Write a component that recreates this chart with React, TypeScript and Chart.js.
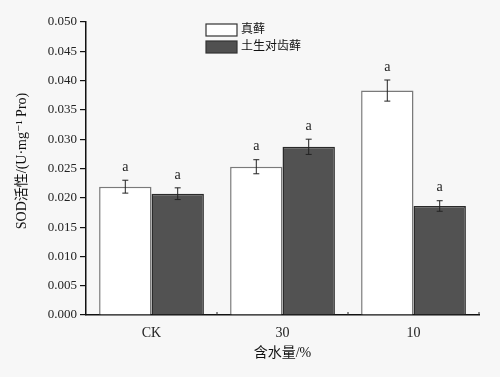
import React, { useEffect, useRef } from "react";
import { Chart, registerables } from "chart.js";

Chart.register(...registerables);

const categories = ["CK", "30", "10"];
const seriesNames = ["真藓", "土生对齿藓"];
const zhenxian = [0.0219, 0.0253, 0.0383];
const tusheng = [0.0207, 0.0287, 0.0186];
const zhenxianErr = [0.0011, 0.0012, 0.0018];
const tushengErr = [0.0010, 0.0013, 0.0009];
const sigLabelsA = ["a", "a", "a"];
const sigLabelsB = ["a", "a", "a"];
const yTicks = [0, 0.005, 0.01, 0.015, 0.02, 0.025, 0.03, 0.035, 0.04, 0.045, 0.05];
const xTitle = "含水量/%";
const yTitle = "SOD活性/(U·mg⁻¹ Pro)";

const SERIF = "'Liberation Serif', 'DejaVu Serif', 'Noto Sans CJK SC', serif";

const overlayPlugin = {
  id: "overlay",
  afterDatasetsDraw(chart: any) {
    const ctx = chart.ctx;
    const ys = chart.scales.y;
    const xs = chart.scales.x;
    const errs = [zhenxianErr, tushengErr];
    const sigs = [sigLabelsA, sigLabelsB];
    const vals = [zhenxian, tusheng];
    ctx.save();
    for (let d = 0; d < 2; d++) {
      const meta = chart.getDatasetMeta(d);
      meta.data.forEach((bar: any, i: number) => {
        const x = bar.x;
        const top = ys.getPixelForValue(vals[d][i] + errs[d][i]);
        const bot = ys.getPixelForValue(vals[d][i] - errs[d][i]);
        ctx.strokeStyle = "#222";
        ctx.lineWidth = 1;
        ctx.beginPath();
        ctx.moveTo(x, top);
        ctx.lineTo(x, bot);
        ctx.moveTo(x - 3, top);
        ctx.lineTo(x + 3, top);
        ctx.moveTo(x - 3, bot);
        ctx.lineTo(x + 3, bot);
        ctx.stroke();
        ctx.fillStyle = "#222";
        ctx.font = "14px " + SERIF;
        ctx.textAlign = "center";
        ctx.textBaseline = "bottom";
        ctx.fillText(sigs[d][i], x, top - 6);
      });
    }
    // small ticks on x axis between categories
    ctx.strokeStyle = "#222";
    ctx.lineWidth = 1;
    const yb = ys.getPixelForValue(0);
    for (let i = 1; i <= categories.length; i++) {
      const xb = i < categories.length
        ? (xs.getPixelForValue(i - 1) + xs.getPixelForValue(i)) / 2
        : xs.right;
      ctx.beginPath();
      ctx.moveTo(xb, yb);
      ctx.lineTo(xb, yb - 3);
      ctx.stroke();
    }
    // legend
    const lx = 206, ly = 24;
    ctx.lineWidth = 1.2;
    ctx.fillStyle = "#ffffff";
    ctx.strokeStyle = "#333";
    ctx.fillRect(lx, ly, 31, 12);
    ctx.strokeRect(lx, ly, 31, 12);
    ctx.fillStyle = "#505050";
    ctx.fillRect(lx, ly + 17, 31, 12);
    ctx.strokeRect(lx, ly + 17, 31, 12);
    ctx.fillStyle = "#111";
    ctx.font = "12px " + SERIF;
    ctx.textAlign = "left";
    ctx.textBaseline = "middle";
    ctx.fillText(seriesNames[0], lx + 35, ly + 6);
    ctx.fillText(seriesNames[1], lx + 35, ly + 23);
    // axis titles
    ctx.fillStyle = "#111";
    ctx.font = "14px " + SERIF;
    ctx.textAlign = "center";
    ctx.textBaseline = "middle";
    ctx.fillText(xTitle, (xs.left + xs.right) / 2, 353);
    ctx.save();
    ctx.translate(22, 161);
    ctx.rotate(-Math.PI / 2);
    ctx.font = "14px " + SERIF;
    ctx.fillText(yTitle, 0, 0);
    ctx.restore();
    ctx.restore();
  },
};

export default function App() {
  const ref = useRef<HTMLCanvasElement>(null);
  useEffect(() => {
    if (!ref.current) return;
    const chart = new Chart(ref.current, {
      type: "bar",
      data: {
        labels: categories,
        datasets: [
          {
            label: seriesNames[0],
            data: zhenxian,
            backgroundColor: "#ffffff",
            borderColor: "#7a7a7a",
            borderWidth: 1.5,
            categoryPercentage: 0.8,
            barPercentage: 1.0,
          },
          {
            label: seriesNames[1],
            data: tusheng,
            backgroundColor: "#525252",
            borderColor: "#2a2a2a",
            borderWidth: 1.5,
            categoryPercentage: 0.8,
            barPercentage: 1.0,
          },
        ],
      },
      options: {
        animation: false,
        responsive: false,
        devicePixelRatio: 1,
        layout: { padding: { left: 0, right: 21, top: 22, bottom: 0 } },
        plugins: {
          legend: { display: false },
          tooltip: { enabled: false },
        },
        scales: {
          x: {
            grid: { display: false },
            border: { display: true, color: "#111", width: 1.5 },
            ticks: {
              color: "#222",
              font: { family: SERIF, size: 14 },
              padding: 2,
            },
            afterFit: (s: any) => {
              s.height = 62;
            },
          },
          y: {
            min: 0,
            max: 0.05,
            afterBuildTicks: (s: any) => {
              s.ticks = yTicks.map((v) => ({ value: v }));
            },
            grid: {
              drawOnChartArea: false,
              drawTicks: true,
              tickLength: 6,
              color: "#111",
              lineWidth: 1.2,
            },
            border: { display: true, color: "#111", width: 1.5 },
            ticks: {
              color: "#222",
              font: { family: SERIF, size: 13 },
              padding: 3,
              callback: (v: any) => Number(v).toFixed(3),
            },
            afterFit: (s: any) => {
              s.width = 86;
            },
          },
        },
      },
      plugins: [overlayPlugin],
    });
    return () => chart.destroy();
  }, []);
  return (
    <div
      style={{
        position: "fixed",
        left: 0,
        top: 0,
        width: 500,
        height: 377,
        background: "#f7f7f7",
      }}
    >
      <canvas ref={ref} width={500} height={377} style={{ display: "block" }} />
    </div>
  );
}
